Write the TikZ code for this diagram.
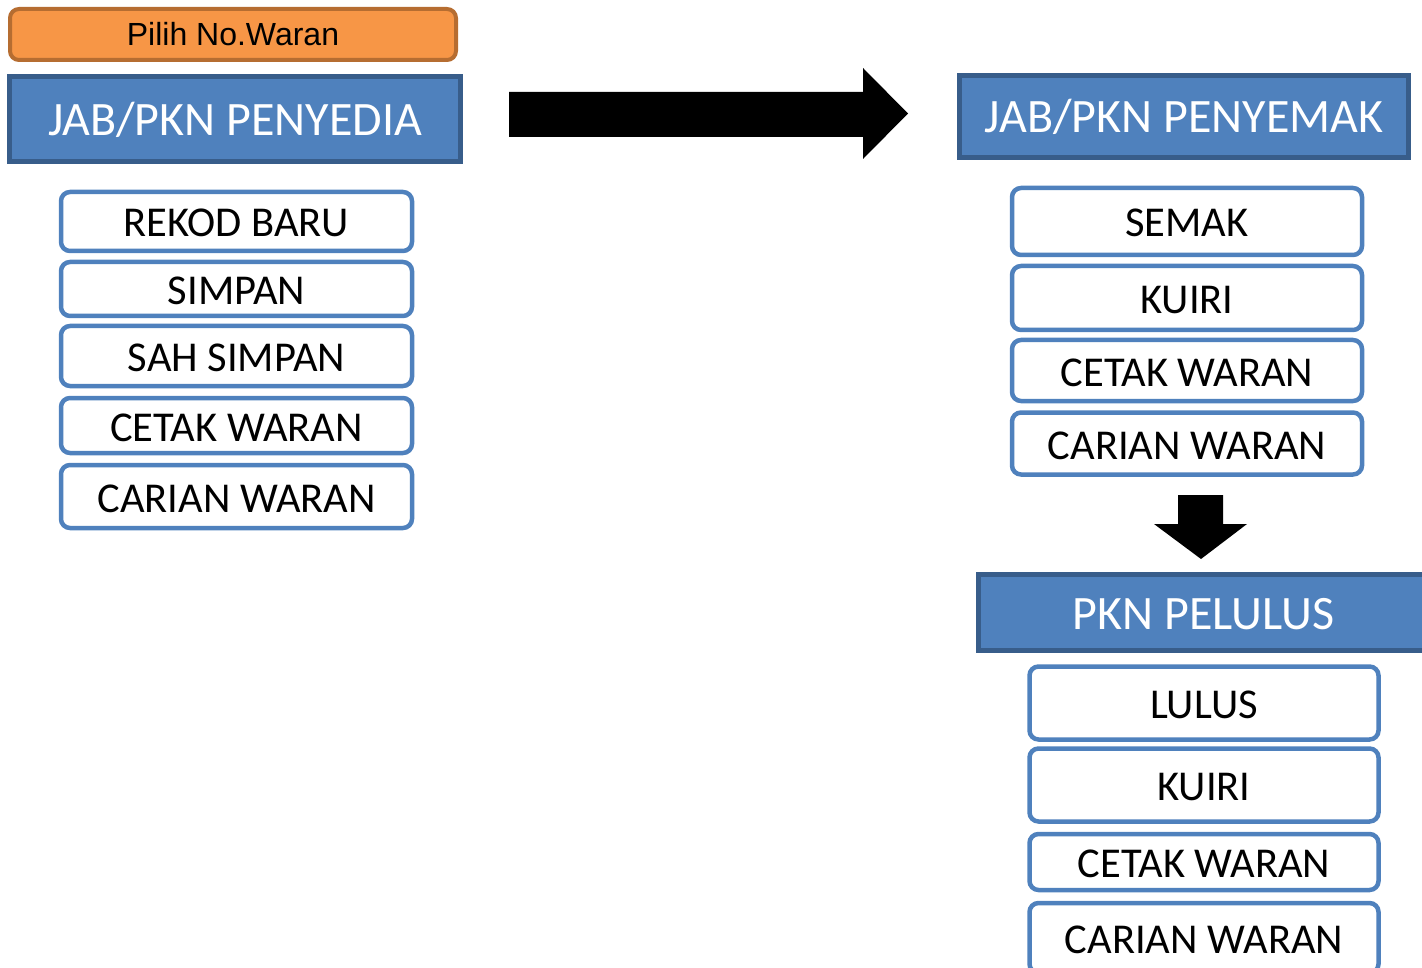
\documentclass[tikz,border=0pt]{standalone}
\usepackage{fontspec}
\setmainfont{Carlito}
\newfontfamily\arialfont{Liberation Sans}
\usepackage{tikz}
\usetikzlibrary{calc}
\definecolor{hdrblue}{HTML}{4F81BD}
\definecolor{hdrline}{HTML}{385D8A}
\definecolor{pilihfill}{HTML}{F79646}
\definecolor{pilihline}{HTML}{B66D31}

\begin{document}
\begin{tikzpicture}[x=1pt,y=-1pt,
    headnode/.style={rectangle, draw=hdrline, fill=hdrblue, line width=5pt, text=white, inner sep=0pt,
      font=\fontsize{48}{48}\selectfont, text height=33pt, text depth=0pt},
    itemnode/.style={rectangle, rounded corners=9pt, draw=hdrblue, fill=white, line width=4.5pt, inner sep=0pt,
      font=\fontsize{42.5}{42.5}\selectfont, text height=31pt, text depth=0pt},
    pilihnode/.style={rectangle, rounded corners=9pt, draw=pilihline, fill=pilihfill, line width=4pt, inner sep=0pt,
      font=\arialfont\fontsize{32}{32}\selectfont, text height=23pt, text depth=0pt}]
            \useasboundingbox (0,0) rectangle (1422,968);
            \clip (0,0) rectangle (1422,968);

            % penyedia
            \node[pilihnode, minimum width=446pt, minimum height=51pt] (P) at (233,34.5) {Pilih No.Waran};
            \node[headnode, minimum width=451pt, minimum height=85pt] (H1) at (235,119) {JAB/PKN PENYEDIA};
            \node[itemnode, minimum width=351pt, minimum height=59pt] (A1) at (236.5,221.5) {REKOD BARU};
            \node[itemnode, minimum width=351pt, minimum height=54pt] (A2) at (236.5,289) {SIMPAN};
            \node[itemnode, minimum width=351pt, minimum height=60pt] (A3) at (236.5,356) {SAH SIMPAN};
            \node[itemnode, minimum width=351pt, minimum height=55pt] (A4) at (236.5,425.5) {CETAK WARAN};
            \node[itemnode, minimum width=351pt, minimum height=63pt] (A5) at (236.5,496.5) {CARIAN WARAN};

            % penyemak
            \node[headnode, minimum width=449pt, minimum height=82pt] (H2) at (1184,116.5) {JAB/PKN PENYEMAK};
            \node[itemnode, minimum width=350pt, minimum height=67pt] (B1) at (1187,221.5) {SEMAK};
            \node[itemnode, minimum width=350pt, minimum height=64pt] (B2) at (1187,298) {KUIRI};
            \node[itemnode, minimum width=350pt, minimum height=61pt] (B3) at (1187,370.5) {CETAK WARAN};
            \node[itemnode, minimum width=350pt, minimum height=62pt] (B4) at (1187,443.5) {CARIAN WARAN};

            % pelulus
            \node[headnode, minimum width=450pt, minimum height=76pt] (H3) at (1203.5,612.5) {PKN PELULUS};
            \node[itemnode, minimum width=349pt, minimum height=73pt] (C1) at (1204,703) {LULUS};
            \node[itemnode, minimum width=349pt, minimum height=73pt] (C2) at (1204,785) {KUIRI};
            \node[itemnode, minimum width=349pt, minimum height=56pt] (C3) at (1204,862) {CETAK WARAN};
            \node[itemnode, minimum width=349pt, minimum height=70pt] (C4) at (1204,938) {CARIAN WARAN};

            % block arrows
            \fill (509,92) -- (863,92) -- (863,68) -- (908,113.5) -- (863,159) -- (863,137) -- (509,137) -- cycle;
            \fill (1178,495) -- (1223,495) -- (1223,524) -- (1247,524) -- (1201,559) -- (1154,524) -- (1178,524) -- cycle;

        \end{tikzpicture}
\end{document}
